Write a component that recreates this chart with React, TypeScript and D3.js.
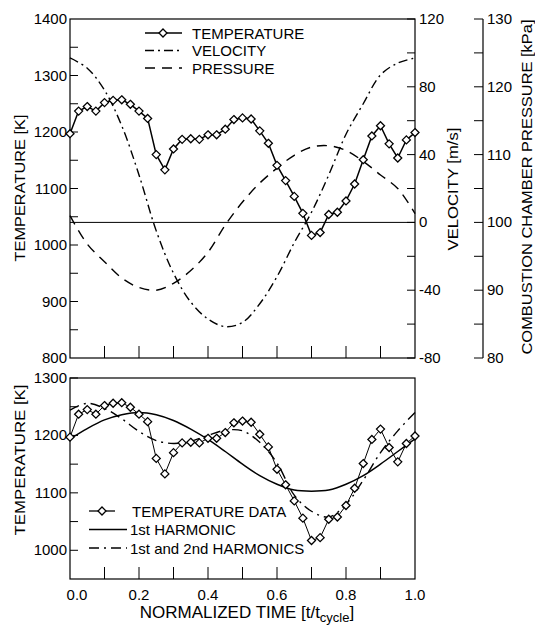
import * as d3 from "d3";

// measured temperature (thermocouple), one point every 1/40 of the cycle
const timeData = [
  0, 0.025, 0.05, 0.075, 0.1, 0.125, 0.15, 0.175, 0.2, 0.225, 0.25, 0.275, 0.3, 0.325,
  0.35, 0.375, 0.4, 0.425, 0.45, 0.475, 0.5, 0.525, 0.55, 0.575, 0.6, 0.625, 0.65,
  0.675, 0.7, 0.725, 0.75, 0.775, 0.8, 0.825, 0.85, 0.875, 0.9, 0.925, 0.95, 0.975, 1.0,
];
const temperature = [
  1197, 1237, 1245, 1237, 1252, 1256, 1257, 1249, 1237, 1224, 1160, 1133, 1170, 1187,
  1188, 1187, 1195, 1195, 1205, 1222, 1225, 1223, 1202, 1180, 1141, 1114, 1086,
  1056, 1017, 1022, 1054, 1058, 1078, 1108, 1151, 1193, 1211, 1179, 1154, 1186, 1199,
];

// smooth curves read every 0.05
const timeCurve = [
  0, 0.05, 0.1, 0.15, 0.2, 0.25, 0.3, 0.35, 0.4, 0.45, 0.5, 0.55, 0.6, 0.65, 0.7, 0.75,
  0.8, 0.85, 0.9, 0.95, 1.0,
];
const velocity = [
  97, 91, 78, 57, 28, -5, -30, -47, -57, -61.5, -59, -48, -32, -12, 6, 28, 52, 70, 87, 94, 97,
];
const pressure = [
  101, 96.8, 94.2, 91.8, 90.4, 90.0, 91.0, 92.9, 95.6, 99.6, 103.0, 105.8, 108.0, 109.9,
  111.1, 111.3, 110.6, 109.0, 107.0, 105.0, 101.3,
];
const harmonic1 = [
  1194, 1212, 1227, 1236, 1240, 1236, 1226, 1211, 1193, 1172, 1150, 1130, 1115, 1105,
  1103, 1105, 1115, 1130, 1150, 1172, 1194,
];
const harmonic12 = [
  1244, 1256, 1247, 1229, 1207, 1191, 1186, 1190, 1200, 1209, 1208, 1188, 1152, 1096,
  1068, 1058, 1080, 1122, 1170, 1208, 1240,
];

const topLegend = [
  { label: "TEMPERATURE", dash: null, marker: true },
  { label: "VELOCITY", dash: "9,4,2,4", marker: false },
  { label: "PRESSURE", dash: "10,7", marker: false },
];
const bottomLegend = [
  { label: "TEMPERATURE DATA", dash: null, marker: true, len: 26 },
  { label: "1st HARMONIC", dash: null, marker: false, len: 38 },
  { label: "1st and 2nd HARMONICS", dash: "10,5,2,5", marker: false, len: 38 },
];

const FONT = "'Liberation Sans', Arial, Helvetica, sans-serif";
const diamond = "M0,-4L4,0L0,4L-4,0Z";

export default function App() {
  const x = d3.scaleLinear().domain([0, 1]).range([70, 415]);
  const yT = d3.scaleLinear().domain([800, 1400]).range([358, 19]);
  const yV = d3.scaleLinear().domain([-80, 120]).range([358, 19]);
  const yP = d3.scaleLinear().domain([80, 130]).range([358, 19]);
  const yB = d3.scaleLinear().domain([950, 1300]).range([579, 378]);

  const [x0, x1] = x.range();
  const pAxisX = 483;

  const mk = (ys: (v: number) => number, ts: number[], smooth: boolean) =>
    d3
      .line<number>()
      .x((_, i) => x(ts[i]))
      .y((d) => ys(d))
      .curve(smooth ? d3.curveCatmullRom.alpha(0.5) : d3.curveLinear);

  const innerX = x.ticks(10).filter((t) => t > 0.001 && t < 0.999);

  const leftAxis = (ys: d3.ScaleLinear<number, number>, step: number, skip: number[] = []) => {
    const [lo, hi] = ys.domain();
    const vals = d3.range(lo, hi + 1, step).filter((v) => !skip.includes(v));
    return vals.map((v) => (
      <g key={v}>
        <line x1={x0} x2={x0 + 8} y1={ys(v)} y2={ys(v)} stroke="#000" strokeWidth={1} />
        {v % 100 === 0 && (
          <text x={x0 - 3} y={ys(v) + 5} textAnchor="end">
            {v}
          </text>
        )}
      </g>
    ));
  };

  return (
    <svg
      width={535}
      height={628}
      style={{ position: "absolute", left: 0, top: 0, background: "#fff" }}
      fontFamily={FONT}
      fontSize={15}
    >
      <rect width={535} height={628} fill="#fff" />

      {/* ---------- top panel ---------- */}
      <rect x={x0} y={19} width={x1 - x0} height={339} fill="none" stroke="#000" strokeWidth={1.2} />
      <line x1={x0} x2={x1} y1={yV(0)} y2={yV(0)} stroke="#000" strokeWidth={1} />
      {innerX.map((t) => (
        <line key={t} x1={x(t)} x2={x(t)} y1={358} y2={346} stroke="#000" />
      ))}
      {leftAxis(yT, 50, [800, 1400])}
      <text x={x0 - 3} y={yT(1400) + 5} textAnchor="end">1400</text>
      <text x={x0 - 3} y={yT(800) + 5} textAnchor="end">800</text>

      {/* velocity axis on the frame */}
      {d3.range(-80, 121, 20).map((v) => (
        <g key={v}>
          <line x1={x1 - 8} x2={x1} y1={yV(v)} y2={yV(v)} stroke="#000" />
          {v % 40 === 0 && (
            <text x={x1 + 4} y={yV(v) + 5}>
              {v}
            </text>
          )}
        </g>
      ))}

      {/* pressure axis */}
      <line x1={pAxisX} x2={pAxisX} y1={19} y2={358} stroke="#000" strokeWidth={1.2} />
      {d3.range(80, 131, 5).map((p) => (
        <g key={p}>
          <line x1={pAxisX - 9} x2={pAxisX} y1={yP(p)} y2={yP(p)} stroke="#000" />
          {p % 10 === 0 && (
            <text x={pAxisX + 4} y={yP(p) + 5}>
              {p}
            </text>
          )}
        </g>
      ))}

      <path d={mk(yV, timeCurve, true)(velocity) ?? ""} fill="none" stroke="#000" strokeWidth={1.4} strokeDasharray="9,4,2,4" />
      <path d={mk(yP, timeCurve, true)(pressure) ?? ""} fill="none" stroke="#000" strokeWidth={1.4} strokeDasharray="10,7" />
      <path d={mk(yT, timeData, false)(temperature) ?? ""} fill="none" stroke="#000" strokeWidth={1.5} />
      {temperature.map((v, i) => (
        <path key={i} d={diamond} transform={`translate(${x(timeData[i])},${yT(v)})`} fill="#fff" stroke="#000" strokeWidth={1.3} />
      ))}

      {topLegend.map((d, i) => {
        const cy = 33 + i * 17.5;
        return (
          <g key={d.label}>
            <line x1={145} x2={182} y1={cy} y2={cy} stroke="#000" strokeWidth={1.5} strokeDasharray={d.dash ?? undefined} />
            {d.marker && <path d={diamond} transform={`translate(163,${cy})`} fill="#fff" stroke="#000" strokeWidth={1.3} />}
            <text x={192} y={cy + 5.5}>{d.label}</text>
          </g>
        );
      })}

      <text transform="translate(25,188) rotate(-90)" textAnchor="middle" textLength={147} lengthAdjust="spacingAndGlyphs">
        TEMPERATURE [K]
      </text>
      <text transform="translate(458,189) rotate(-90)" textAnchor="middle" textLength={123} lengthAdjust="spacingAndGlyphs">
        VELOCITY [m/s]
      </text>
      <text transform="translate(532,187) rotate(-90)" textAnchor="middle" textLength={335} lengthAdjust="spacingAndGlyphs">
        COMBUSTION CHAMBER PRESSURE [kPa]
      </text>

      {/* ---------- bottom panel ---------- */}
      <rect x={x0} y={378} width={x1 - x0} height={201} fill="none" stroke="#000" strokeWidth={1.2} />
      {innerX.map((t) => (
        <line key={t} x1={x(t)} x2={x(t)} y1={579} y2={567} stroke="#000" />
      ))}
      {leftAxis(yB, 50, [950])}

      <path d={mk(yB, timeCurve, true)(harmonic1) ?? ""} fill="none" stroke="#000" strokeWidth={1.5} />
      <path d={mk(yB, timeCurve, true)(harmonic12) ?? ""} fill="none" stroke="#000" strokeWidth={1.4} strokeDasharray="10,5,2,5" />
      <path d={mk(yB, timeData, false)(temperature) ?? ""} fill="none" stroke="#000" strokeWidth={1} />
      {temperature.map((v, i) => (
        <path key={i} d={diamond} transform={`translate(${x(timeData[i])},${yB(v)})`} fill="#fff" stroke="#000" strokeWidth={1.3} />
      ))}

      {bottomLegend.map((d, i) => {
        const cy = 511 + i * 18.5;
        return (
          <g key={d.label}>
            <line x1={89} x2={89 + d.len} y1={cy} y2={cy} stroke="#000" strokeWidth={1.3} strokeDasharray={d.dash ?? undefined} />
            {d.marker && <path d={diamond} transform={`translate(102,${cy})`} fill="#fff" stroke="#000" strokeWidth={1.3} />}
            <text x={d.marker ? 132 : 130} y={cy + 5.5}>{d.label}</text>
          </g>
        );
      })}

      <text transform="translate(25,460) rotate(-90)" textAnchor="middle" textLength={151} lengthAdjust="spacingAndGlyphs">
        TEMPERATURE [K]
      </text>

      {x.ticks(5).map((t, i) => (
        <text key={t} x={x(t) + (i === 0 ? 7 : 0)} y={600} textAnchor="middle">
          {d3.format(".1f")(t)}
        </text>
      ))}
      <text x={247} y={618} textAnchor="middle" fontSize={17}>
        NORMALIZED TIME [t/t<tspan fontSize={13} dy={3.5}>cycle</tspan>
        <tspan dy={-3.5}>]</tspan>
      </text>
    </svg>
  );
}
